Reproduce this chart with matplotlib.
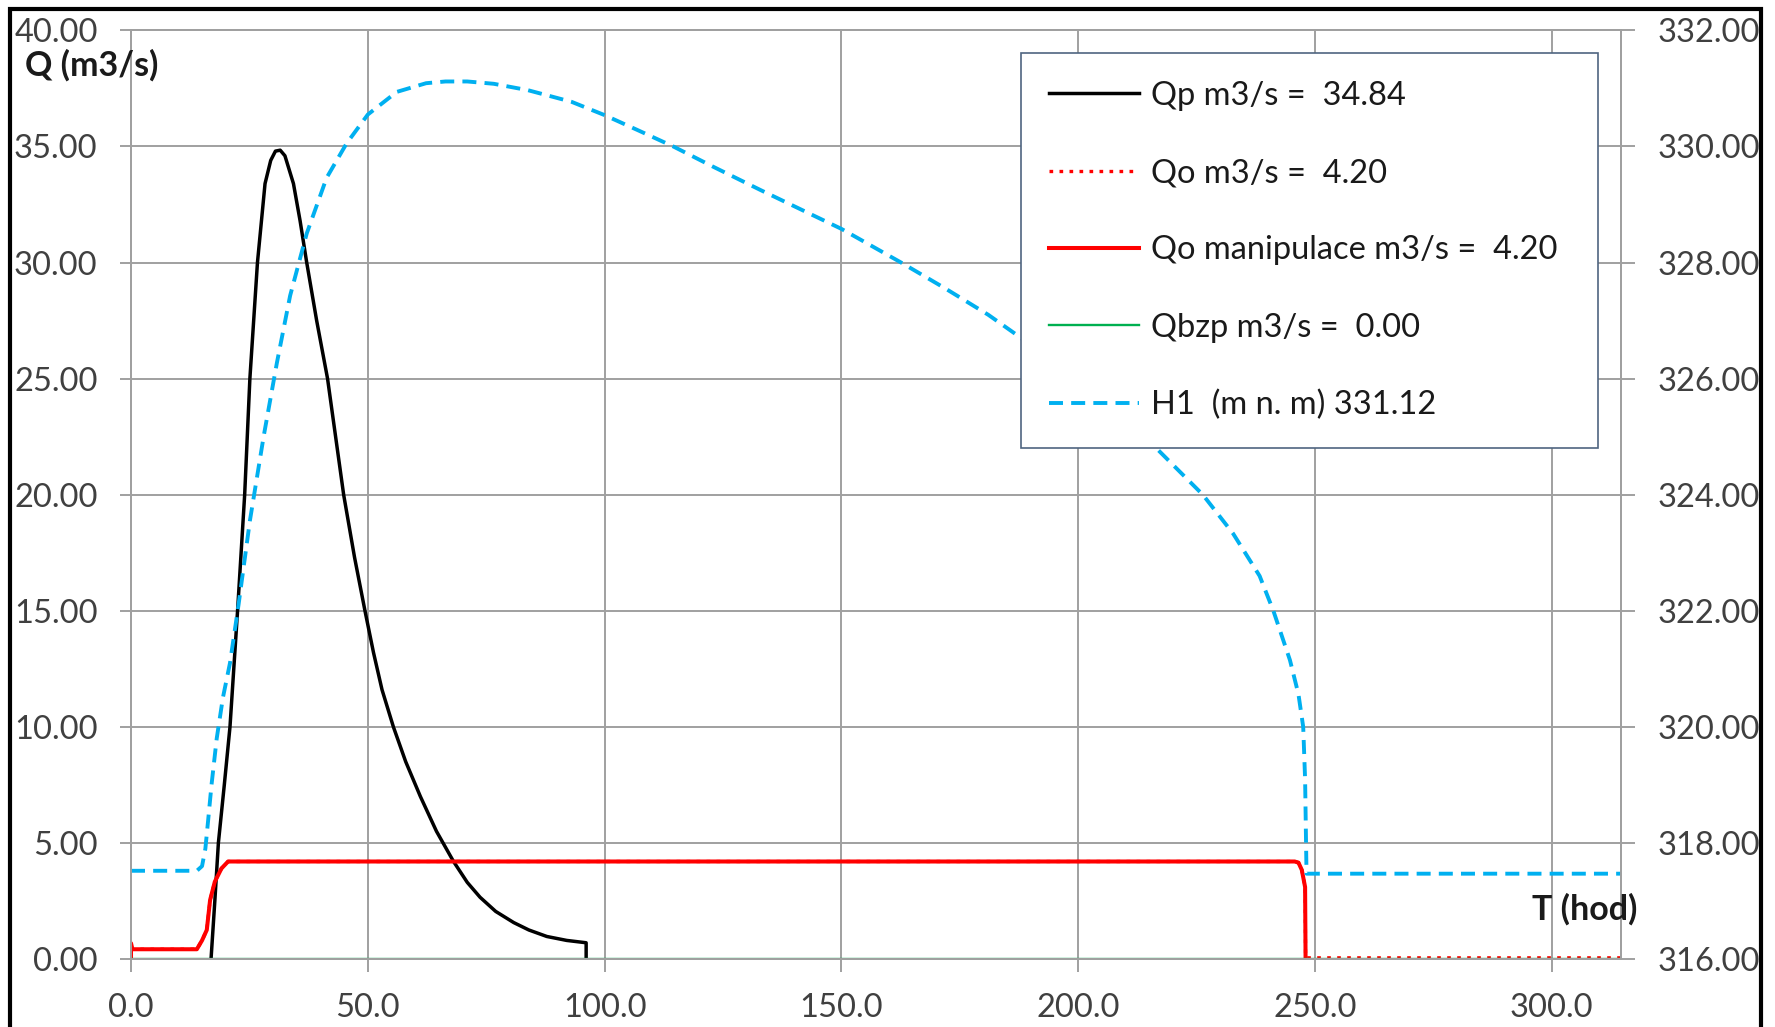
import matplotlib
matplotlib.use('Agg')
import matplotlib.pyplot as plt
from matplotlib.patches import Rectangle
from matplotlib.ticker import FormatStrFormatter

plt.rcParams['font.family'] = ['Lato', 'DejaVu Sans']

# Qp - inflow hydrograph (m3/s)
t_qp = [16.9, 17.7, 18.45, 19.7, 20.9, 22.5, 24.0, 25.1, 26.7, 28.3, 29.5, 30.5,
        31.5, 32.5, 33.4, 34.3, 35.7, 37.1, 39.2, 41.5, 44.9, 47.2, 49.4, 51.2,
        53.0, 55.4, 58.0, 61.1, 64.5, 68.1, 71.0, 73.7, 77.0, 80.8, 84.0, 87.8,
        92.0, 96.1, 96.1]
qp = [0.0, 2.5, 5.0, 7.5, 10.0, 15.0, 20.0, 25.0, 30.0, 33.4, 34.4, 34.8,
      34.84, 34.6, 34.0, 33.4, 31.8, 30.0, 27.5, 25.0, 20.0, 17.3, 15.0, 13.2,
      11.6, 10.0, 8.5, 7.0, 5.5, 4.2, 3.3, 2.66, 2.05, 1.57, 1.25, 0.97,
      0.8, 0.7, 0.0]

# Qo - outflow (dotted) and Qo manipulace (solid)
t_qo = [0.0, 0.0, 0.3, 13.9, 15.0, 16.0, 16.7, 17.7, 19.1, 20.5, 21.5,
        245.7, 246.5, 247.2, 247.9, 248.0, 248.3, 314.6]
qo = [0.0, 0.68, 0.42, 0.42, 0.8, 1.25, 2.54, 3.33, 3.9, 4.2, 4.2,
      4.2, 4.15, 3.84, 3.1, 0.05, 0.05, 0.05]
t_qm = [0.0, 0.0, 0.3, 13.9, 15.0, 16.0, 16.7, 17.7, 19.1, 20.5, 21.5,
        245.7, 246.5, 247.2, 247.9, 248.0]
qm = [0.0, 0.68, 0.42, 0.42, 0.8, 1.25, 2.54, 3.33, 3.9, 4.2, 4.2,
      4.2, 4.15, 3.84, 3.1, 0.0]

# Qbzp
t_qb = [0.0, 314.6]
qb = [0.0, 0.0]

# H1 - water level (m n. m), right axis
t_h1 = [0.0, 13.9, 15.0, 15.7, 16.3, 17.0, 18.1, 19.4, 20.9, 22.7, 25.1, 28.0,
        30.8, 33.6, 37.1, 41.3, 45.5, 50.0, 56.1, 62.3, 66.4, 71.0, 76.6, 83.8,
        93.0, 100.0, 107.3, 114.5, 122.7, 132.9, 143.1, 150.0, 162.6, 171.8,
        181.0, 187.6, 200.0, 210.0, 216.5, 226.3, 232.7, 238.3, 241.2, 244.7,
        246.5, 247.5, 247.9, 248.1, 248.2, 314.6]
h1 = [317.52, 317.52, 317.6, 317.9, 318.4, 319.0, 319.8, 320.5, 321.1, 322.1,
      323.55, 325.0, 326.27, 327.43, 328.5, 329.46, 330.05, 330.55, 330.94,
      331.09, 331.12, 331.12, 331.08, 330.97, 330.77, 330.54, 330.27, 330.0,
      329.66, 329.25, 328.85, 328.58, 328.0, 327.56, 327.1, 326.72, 325.95,
      325.3, 324.8, 324.0, 323.33, 322.6, 322.0, 321.15, 320.56, 320.0, 319.1,
      318.0, 317.47, 317.47]

labels = ['Qp m3/s =  34.84', 'Qo m3/s =  4.20', 'Qo manipulace m3/s =  4.20',
          'Qbzp m3/s =  0.00', 'H1  (m n. m) 331.12']

W, H = 1775, 1027
fig = plt.figure(figsize=(W / 100, H / 100), dpi=100)
ax = fig.add_axes([131 / W, 1 - 959 / H, (1621 - 131) / W, (959 - 30.4) / H])
ax2 = ax.twinx()

grid_c = '#a0a0a0'
l1, = ax.plot(t_qp, qp, color='black', lw=2.5)
l2, = ax.plot(t_qo, qo, color='red', lw=2.4, dashes=(1.1, 1.9))
l3, = ax.plot(t_qm, qm, color='red', lw=2.9)
l4, = ax.plot(t_qb, qb, color='#00b050', lw=1.7)
l5, = ax2.plot(t_h1, h1, color='#00b0f0', lw=2.8, dashes=(3.6, 2.1))

ax.set_xlim(0, 314.6)
ax.set_ylim(0, 40)
ax.set_xticks(range(0, 301, 50))
ax.set_yticks(range(0, 41, 5))
ax.xaxis.set_major_formatter(FormatStrFormatter('%.1f'))
ax.yaxis.set_major_formatter(FormatStrFormatter('%.2f'))
ax2.set_ylim(316, 332)
ax2.set_yticks(range(316, 333, 2))
ax2.yaxis.set_major_formatter(FormatStrFormatter('%.2f'))

ax.grid(True, color=grid_c, lw=1.4)
ax.set_axisbelow(True)
ax.tick_params(axis='both', direction='out', width=1.4, color=grid_c,
               labelsize=23.5, labelcolor='#404040')
ax.tick_params(axis='x', length=9.5, pad=15)
ax.tick_params(axis='y', length=8, pad=16)
ax2.tick_params(axis='y', direction='out', length=10, width=1.4, color=grid_c,
                labelsize=23.5, labelcolor='#404040', pad=16)
for a in (ax, ax2):
    for s in a.spines.values():
        s.set_color(grid_c)
        s.set_linewidth(1.4)

fig.text(92 / W, 1 - 65 / H, 'Q (m3/s)', fontsize=24.5, fontweight='bold',
         ha='center', va='center', color='#1a1a1a')
fig.text(1585 / W, 1 - 909 / H, 'T (hod)', fontsize=24.5, fontweight='bold',
         ha='center', va='center', color='#1a1a1a')

leg = ax2.legend([l1, l2, l3, l4, l5], labels, loc='upper left',
                 bbox_to_anchor=(1021 / W, 1 - 53 / H, (1598 - 1021) / W, 0),
                 bbox_transform=fig.transFigure, mode='expand', borderaxespad=0,
                 fontsize=23.5, labelspacing=1.45, borderpad=0.85,
                 handlelength=2.75, handletextpad=0.37, fancybox=False,
                 framealpha=1, edgecolor='#4f6580')
leg.get_frame().set_linewidth(1.2)
for txt in leg.get_texts():
    txt.set_color('#1a1a1a')

# outer frame of the picture
fig.patches.append(Rectangle((10 / W, -0.1), (1761 - 10) / W, 1.1 - 9 / H,
                             transform=fig.transFigure, fill=False,
                             ec='black', lw=3))

fig.savefig('out.png', dpi=100)
